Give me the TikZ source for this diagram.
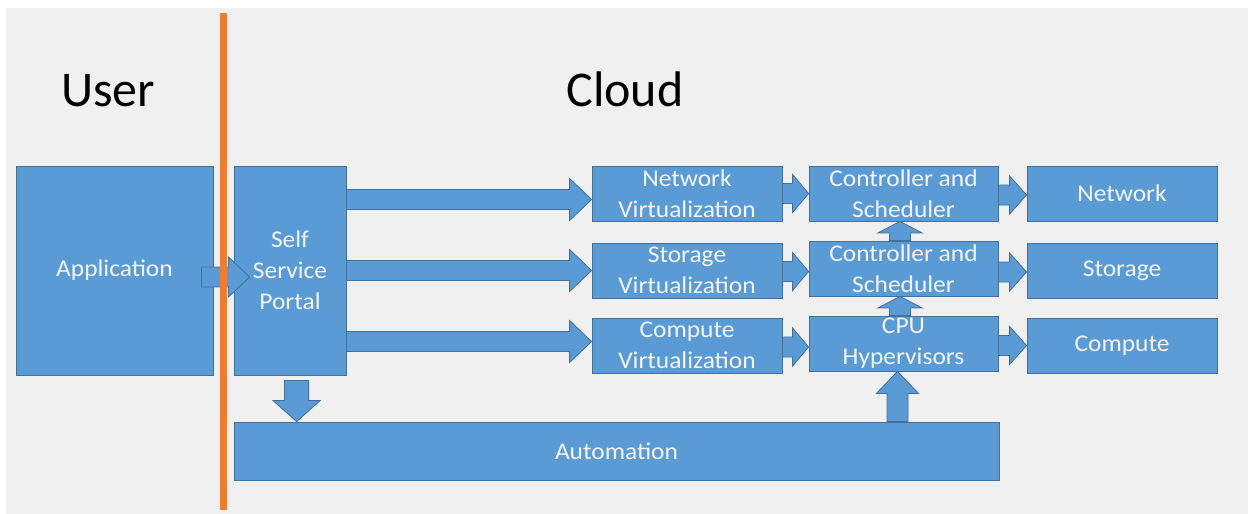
\documentclass[tikz,border=0pt]{standalone}
\usepackage{fontspec}
\setmainfont{Carlito}
\newfontfamily\boxfont{Carlito}[FakeStretch=1.06]
\usetikzlibrary{calc}

\definecolor{panel}{HTML}{F0F0F0}
\definecolor{boxblue}{HTML}{5B9BD5}
\definecolor{boxedge}{HTML}{41719C}
\definecolor{divider}{HTML}{ED7D31}
\definecolor{boxtext}{HTML}{F4F4F4}

\tikzset{
  blk/.style={rectangle, draw=boxedge, fill=boxblue, line width=0.8pt,
    text=boxtext, font=\boxfont\fontsize{24}{31}\selectfont, align=center, inner sep=0pt},
  wide/.style={blk, minimum width=190pt, minimum height=55pt},
  barrow/.style={draw=boxedge, fill=boxblue, line width=0.8pt, line join=miter},
  heading/.style={font=\fontsize{50}{54}\selectfont, text=black, inner sep=0pt, anchor=base},
  divline/.style={draw=divider, line width=7pt}
}

% block arrow pointing right: base, tip, shaft half-height, head half-height, head length
\newcommand\rightblock[5]{%
  \filldraw[barrow] let \p1=(#1), \p2=(#2) in
    ({\x1},{\y2+#3}) -- ({\x2-#5},{\y2+#3}) -- ({\x2-#5},{\y2+#4}) -- (\x2,\y2)
    -- ({\x2-#5},{\y2-#4}) -- ({\x2-#5},{\y2-#3}) -- ({\x1},{\y2-#3}) -- cycle;}

% vertical block arrow: base, tip, shaft half-width, head half-width, signed head length (+ = up)
\newcommand\vertblock[5]{%
  \filldraw[barrow] let \p1=(#1), \p2=(#2) in
    ({\x2+#3},{\y1}) -- ({\x2+#3},{\y2-(#5)}) -- ({\x2+#4},{\y2-(#5)}) -- (\x2,\y2)
    -- ({\x2-#4},{\y2-(#5)}) -- ({\x2-#3},{\y2-(#5)}) -- ({\x2-#3},{\y1}) -- cycle;}

\begin{document}
\begin{tikzpicture}[x=1pt,y=-1pt]
  % page and panel
  \fill[white] (0,0) rectangle (1248,514);
  \fill[panel] (6,8) rectangle (1248,514);
  \useasboundingbox (0,0) rectangle (1248,514);

  % headings
  \node[heading] (user) at (108,106) {User};
  \node[heading] (cloud) at (625,106) {Cloud};

  % boxes
  \node[blk, minimum width=197pt, minimum height=209pt] (app) at (114.5,270.5) {Application};
  \node[blk, minimum width=112pt, minimum height=209pt] (portal) at (290,270.5) {Self\\Service\\Portal};

  \node[wide] (nv) at (687,193.5) {Network\\Virtualization};
  \node[wide] (sv) at (687,270.5) {Storage\\Virtualization};
  \node[wide] (cv) at (687,345.5) {Compute\\Virtualization};

  \node[wide, minimum width=189pt] (cs1) at (903.5,193.5) {Controller and\\Scheduler};
  \node[wide, minimum width=189pt] (cs2) at (903.5,268.5) {Controller and\\Scheduler};
  \node[wide, minimum width=189pt] (cpu) at (903.5,343.5) {CPU\\Hypervisors};

  \node[wide] (net) at (1122,193.5) {Network};
  \node[wide] (sto) at (1122,270.5) {Storage};
  \node[wide] (com) at (1122,345.5) {Compute};

  \node[blk, minimum width=765pt, minimum height=58pt] (auto) at (616.5,451) {Automation};

  % application to portal
  \rightblock{[xshift=-12pt]app.east}{[xshift=16pt,yshift=-6.5pt]portal.west}{10pt}{20pt}{21pt}

  % portal to the virtualization layers
  \rightblock{portal.east}{[yshift=-6pt]nv.west}{10pt}{21pt}{22pt}
  \rightblock{portal.east}{sv.west}{10pt}{21pt}{22pt}
  \rightblock{portal.east}{[yshift=4pt]cv.west}{10pt}{21pt}{22pt}

  % virtualization to controllers
  \rightblock{nv.east}{cs1.west}{10pt}{19pt}{16pt}
  \rightblock{sv.east}{[yshift=-3pt]cs2.west}{10pt}{19pt}{16pt}
  \rightblock{cv.east}{[yshift=-3.5pt]cpu.west}{10pt}{19pt}{16pt}

  % controllers to resources
  \rightblock{cs1.east}{[yshift=-1.5pt]net.west}{10pt}{19pt}{17pt}
  \rightblock{cs2.east}{[yshift=-1.5pt]sto.west}{10pt}{19pt}{17pt}
  \rightblock{cpu.east}{com.west}{10pt}{19pt}{17pt}

  % upward links between the controller stack
  \vertblock{cpu.north}{[xshift=-3.5pt]cs2.south}{10.5pt}{22pt}{11.5pt}
  \vertblock{cs2.north}{[xshift=-3.5pt]cs1.south}{10.5pt}{22pt}{11.5pt}

  % automation
  \vertblock{auto.north}{[xshift=-6pt]cpu.south}{10.5pt}{21pt}{22pt}
  \vertblock{[yshift=-5pt]portal.south}{[xshift=63pt]auto.north west}{12pt}{23.5pt}{-21pt}

  % user / cloud boundary
  \coordinate (divtop) at (223,13);
  \coordinate (divbot) at (223,510);
  \draw[divline] (divtop) -- (divbot);
\end{tikzpicture}
\end{document}
